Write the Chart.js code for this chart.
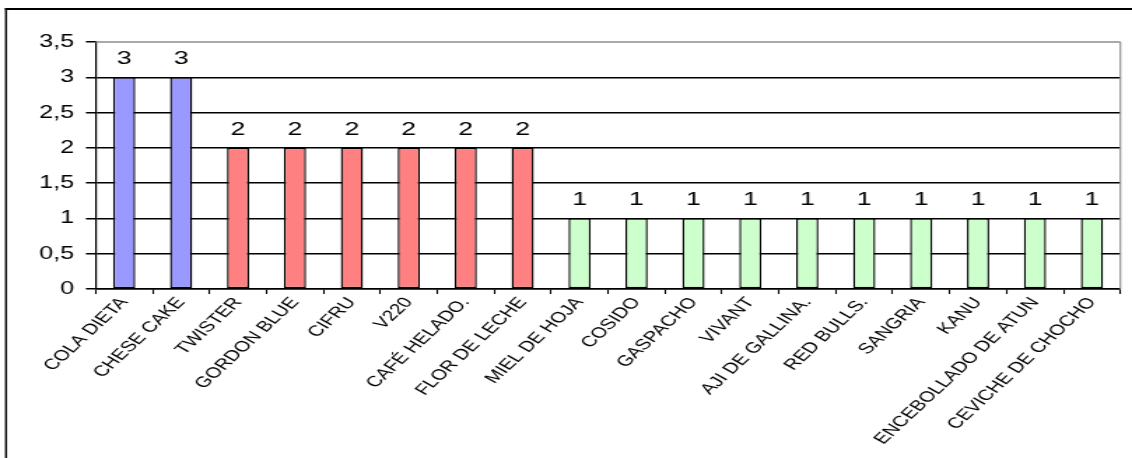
<!DOCTYPE html>
<html>
<head>
<meta charset="utf-8">
<script src="https://cdn.jsdelivr.net/npm/chart.js@4/dist/chart.umd.min.js"></script>
<style>
  html, body { margin: 0; padding: 0; background: #fff; }
  #wrap { position: relative; width: 1132px; height: 458px; overflow: hidden; }
  /* the drawing is laid out on a narrower canvas and widened to the page,
     which gives the wide lettering of the original worksheet chart */
  #c { width: 1132px !important; height: 458px !important; display: block; }
</style>
</head>
<body>
<div id="wrap"><canvas id="c" width="809" height="458" style="width:1132px;height:458px"></canvas></div>
<script>
// Number of orders per dish / drink
const categories = [
  'COLA DIETA', 'CHESE CAKE', 'TWISTER', 'GORDON BLUE', 'CIFRU', 'V220',
  'CAFÉ HELADO.', 'FLOR DE LECHE', 'MIEL DE HOJA', 'COSIDO', 'GASPACHO',
  'VIVANT', 'AJI DE GALLINA.', 'RED BULLS.', 'SANGRIA', 'KANU',
  'ENCEBOLLADO DE ATUN', 'CEVICHE DE CHOCHO'
];
const counts = [3, 3, 2, 2, 2, 2, 2, 2, 1, 1, 1, 1, 1, 1, 1, 1, 1, 1];
const yTicks = [0, 0.5, 1, 1.5, 2, 2.5, 3, 3.5];

const FONT = "'Liberation Sans', Arial, sans-serif";
const fillByCount = { 3: '#9999FF', 2: '#FF8080', 1: '#CCFFCC' };

// outer frame of the chart object
const framePlugin = {
  id: 'frame',
  beforeDraw(chart) {
    const ctx = chart.ctx;
    ctx.save();
    ctx.fillStyle = '#fff';
    ctx.fillRect(0, 0, chart.width, chart.height);
    ctx.strokeStyle = '#000';
    ctx.lineWidth = 2;
    ctx.beginPath();
    ctx.moveTo(3.6, 9);
    ctx.lineTo(chart.width, 9);
    ctx.stroke();
    ctx.lineWidth = 1.45;
    ctx.beginPath();
    ctx.moveTo(4.3, 8);
    ctx.lineTo(4.3, chart.height);
    ctx.stroke();
    ctx.restore();
  }
};

// grey border on the top and right side of the plot area
const plotBorderPlugin = {
  id: 'plotBorder',
  beforeDatasetsDraw(chart) {
    const { ctx, chartArea: a } = chart;
    ctx.save();
    ctx.strokeStyle = '#8c8c8c';
    ctx.lineWidth = 1.5;
    ctx.beginPath();
    ctx.moveTo(a.left, a.top);
    ctx.lineTo(a.right, a.top);
    ctx.stroke();
    ctx.lineWidth = 1.1;
    ctx.beginPath();
    ctx.moveTo(a.right, a.top);
    ctx.lineTo(a.right, a.bottom);
    ctx.stroke();
    ctx.restore();
  }
};

// value printed above each bar
const valueLabelPlugin = {
  id: 'valueLabels',
  afterDatasetsDraw(chart) {
    const ctx = chart.ctx;
    const meta = chart.getDatasetMeta(0);
    const data = chart.data.datasets[0].data;
    ctx.save();
    ctx.font = '19px ' + FONT;
    ctx.fillStyle = '#000';
    ctx.textAlign = 'center';
    ctx.textBaseline = 'alphabetic';
    meta.data.forEach((bar, i) => {
      ctx.fillText(String(data[i]), bar.x, bar.y - 13);
    });
    ctx.restore();
  }
};

new Chart(document.getElementById('c'), {
  type: 'bar',
  data: {
    labels: categories,
    datasets: [{
      data: counts,
      backgroundColor: counts.map(v => fillByCount[v]),
      borderColor: '#000',
      borderWidth: 1.4,
      borderSkipped: false,
      barPercentage: 0.39,
      categoryPercentage: 1
    }]
  },
  options: {
    responsive: false,
    animation: false,
    devicePixelRatio: 1,
    layout: { padding: { left: 0, top: 42, right: 8.3, bottom: 0 } },
    plugins: { legend: { display: false }, tooltip: { enabled: false } },
    scales: {
      x: {
        offset: true,
        grid: {
          offset: true,
          drawOnChartArea: false,
          drawTicks: true,
          tickLength: 5,
          tickColor: '#000',
          tickWidth: 1.1
        },
        border: { color: '#000', width: 1.5 },
        ticks: {
          autoSkip: false,
          minRotation: 52,
          maxRotation: 52,
          padding: 0,
          color: '#000',
          font: { family: FONT, size: 15 }
        },
        afterFit(scale) { scale.height = 458 - 289; }
      },
      y: {
        min: 0,
        max: 3.5,
        afterBuildTicks(scale) { scale.ticks = yTicks.map(v => ({ value: v })); },
        grid: {
          color: ctx => (ctx.tick && ctx.tick.value === 3.5) ? 'rgba(0,0,0,0)' : '#000',
          lineWidth: 1.5,
          drawTicks: true,
          tickLength: 7,
          tickColor: '#000',
          tickWidth: 1.5
        },
        border: { color: '#000', width: 1.2 },
        ticks: {
          padding: 8.5,
          color: '#000',
          font: { family: FONT, size: 18 },
          callback: v => String(v).replace('.', ',')
        },
        afterFit(scale) { scale.width = 68.4; }
      }
    }
  },
  plugins: [framePlugin, plotBorderPlugin, valueLabelPlugin]
});
</script>
</body>
</html>
